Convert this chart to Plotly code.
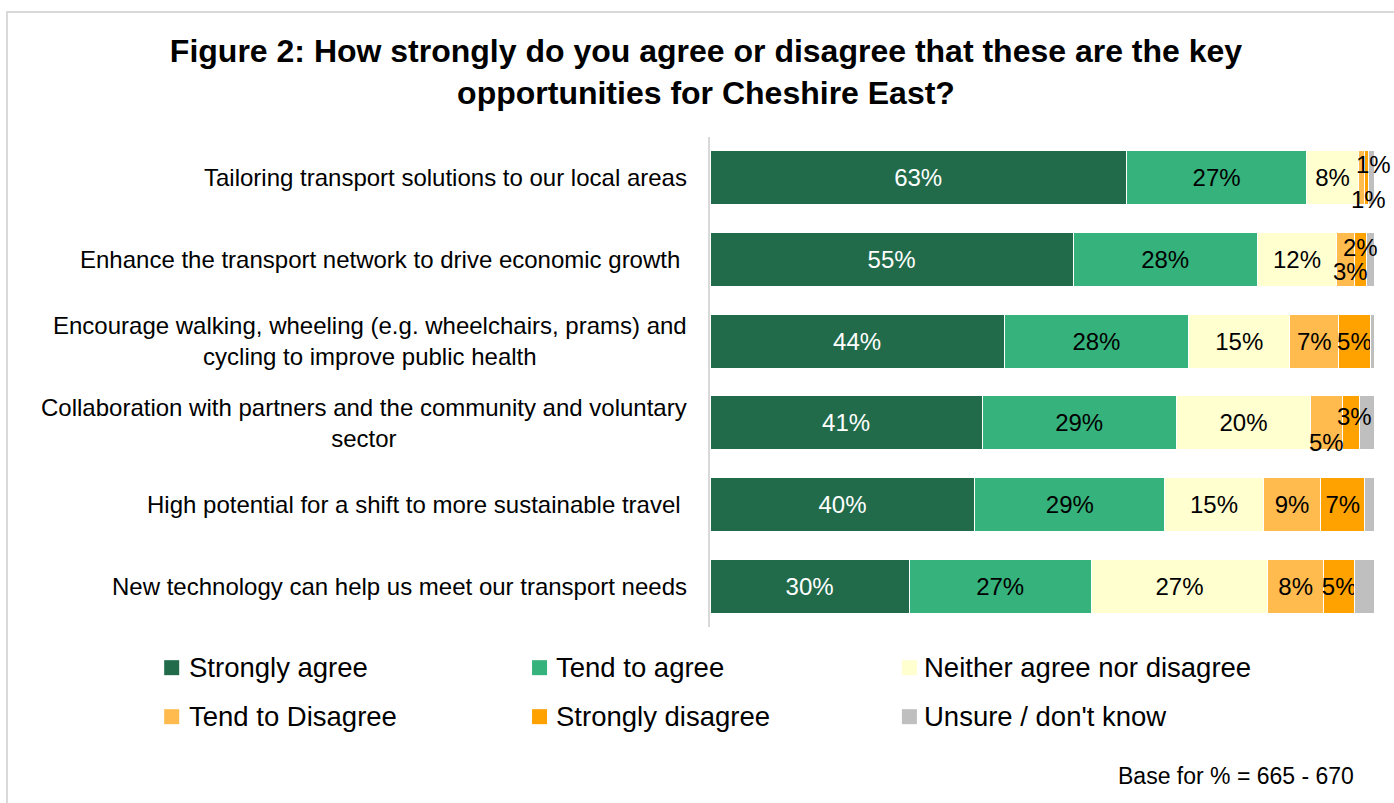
import plotly.graph_objects as go

# Survey statements, top to bottom
statements = [
    "Tailoring transport solutions to our local areas",
    "Enhance the transport network to drive economic growth\u00a0",
    "Encourage walking, wheeling (e.g. wheelchairs, prams) and<br>cycling to improve public health",
    "Collaboration with partners and the community and voluntary<br>sector",
    "High potential for a shift to more sustainable travel\u00a0",
    "New technology can help us meet our transport needs",
]

# Response shares (%) per statement
strongly_agree = [62.7, 54.7, 44.3, 41.0, 39.9, 30.0]
tend_to_agree = [27.2, 27.7, 27.8, 29.2, 28.6, 27.4]
neither = [7.7, 12.0, 15.2, 20.3, 14.8, 26.6]
tend_to_disagree = [1.0, 2.6, 7.4, 4.7, 8.7, 8.4]
strongly_disagree = [0.6, 1.9, 4.7, 2.6, 6.6, 4.7]
unsure = [0.8, 1.1, 0.6, 2.2, 1.4, 2.9]

series_names = [
    "Strongly agree",
    "Tend to agree",
    "Neither agree nor disagree",
    "Tend to Disagree",
    "Strongly disagree",
    "Unsure / don't know",
]
series_values = [strongly_agree, tend_to_agree, neither,
                 tend_to_disagree, strongly_disagree, unsure]
series_colors = ["#216b4b", "#36b27c", "#ffffcf", "#ffbb4d", "#ffa200", "#bfbfbf"]
label_colors = ["#ffffff", "#000000", "#000000", "#000000", "#000000", "#000000"]

# Labels drawn beside the bar instead of inside: (series index, row index, xshift, yshift)
offset_labels = [
    (3, 0, 12, 13), (4, 0, 2, -22),
    (3, 1, 5, -12), (4, 1, 0, 12),
    (3, 3, 0, -20), (4, 3, 4, 6),
]
# Series without value labels
unlabelled_series = [5]

FONT = "Liberation Sans, Arial, sans-serif"

fig = go.Figure()

moved = {(s, r) for s, r, _, _ in offset_labels}
for si, (name, vals, col, tcol) in enumerate(zip(series_names, series_values,
                                                  series_colors, label_colors)):
    templates = []
    for ri in range(len(statements)):
        if si in unlabelled_series or (si, ri) in moved:
            templates.append("")
        else:
            templates.append("%{x:.0f}%")
    fig.add_trace(go.Bar(
        y=statements,
        x=vals,
        name=name,
        orientation="h",
        marker=dict(color=col, line=dict(color="#ffffff", width=1)),
        texttemplate=templates,
        textposition="inside",
        insidetextanchor="middle",
        textangle=0,
        constraintext="none",
        textfont=dict(family=FONT, size=24, color=tcol),
        hoverinfo="skip",
        showlegend=False,
    ))

annotations = []

# Statement labels, centred line by line, right edge near the axis
for st in statements:
    annotations.append(dict(
        x=-0.031, xref="paper", y=st, yref="y",
        text=st, showarrow=False, xanchor="right", align="center",
        font=dict(family=FONT, size=24, color="#000000"),
    ))

# Value labels shifted next to narrow segments
for si, ri, dx, dy in offset_labels:
    start = sum(series_values[k][ri] for k in range(si))
    v = series_values[si][ri]
    annotations.append(dict(
        x=start + v / 2, xref="x", y=statements[ri], yref="y",
        text=f"{v:.0f}%", showarrow=False, xshift=dx, yshift=dy,
        font=dict(family=FONT, size=24, color="#000000"),
    ))

# Legend laid out in a 3 x 2 grid
legend_cols_sq = [-0.822, -0.268, 0.289]
legend_cols_tx = [-0.788, -0.235, 0.319]
legend_rows = [-0.083, -0.183]
shapes = []
for i, (name, col) in enumerate(zip(series_names, series_colors)):
    cx = i % 3
    ry = i // 3
    sq = legend_cols_sq[cx]
    yc = legend_rows[ry]
    shapes.append(dict(
        type="rect", xref="paper", yref="paper",
        x0=sq, x1=sq + 0.0226, y0=yc - 0.0153, y1=yc + 0.0153,
        fillcolor=col, line=dict(width=0),
    ))
    annotations.append(dict(
        x=legend_cols_tx[cx], xref="paper", y=yc, yref="paper",
        text=name, showarrow=False, xanchor="left", yanchor="middle",
        font=dict(family=FONT, size=27.5, color="#000000"),
    ))

# Base note
annotations.append(dict(
    x=0.973, xref="paper", y=-0.304, yref="paper",
    text="Base for % = 665 - 670", showarrow=False,
    xanchor="right", yanchor="middle",
    font=dict(family=FONT, size=23, color="#000000"),
))

# Outer frame
shapes.append(dict(
    type="rect", xref="paper", yref="paper",
    x0=-1.0587, x1=2.0, y0=-1.0, y1=1.2551,
    line=dict(color="#d9d9d9", width=2), fillcolor="rgba(0,0,0,0)",
    layer="below",
))

fig.update_layout(
    barmode="stack",
    bargap=0.335,
    width=1394,
    height=803,
    margin=dict(l=710, r=20, t=137, b=176),
    paper_bgcolor="#ffffff",
    plot_bgcolor="#ffffff",
    title=dict(
        text="<b>Figure 2: How strongly do you agree or disagree that these are the key<br>opportunities for Cheshire East?</b>",
        x=706 / 1394, xanchor="center", xref="container",
        y=1 - 62 / 803, yanchor="top", yref="container",
        font=dict(family=FONT, size=32, color="#000000"),
    ),
    xaxis=dict(range=[0, 100], visible=False, fixedrange=True),
    yaxis=dict(
        autorange="reversed",
        showticklabels=False,
        showline=True, linecolor="#d9d9d9", linewidth=2,
        showgrid=False, zeroline=False, ticks="",
    ),
    annotations=annotations,
    shapes=shapes,
    showlegend=False,
)

fig.write_html("out.html")
